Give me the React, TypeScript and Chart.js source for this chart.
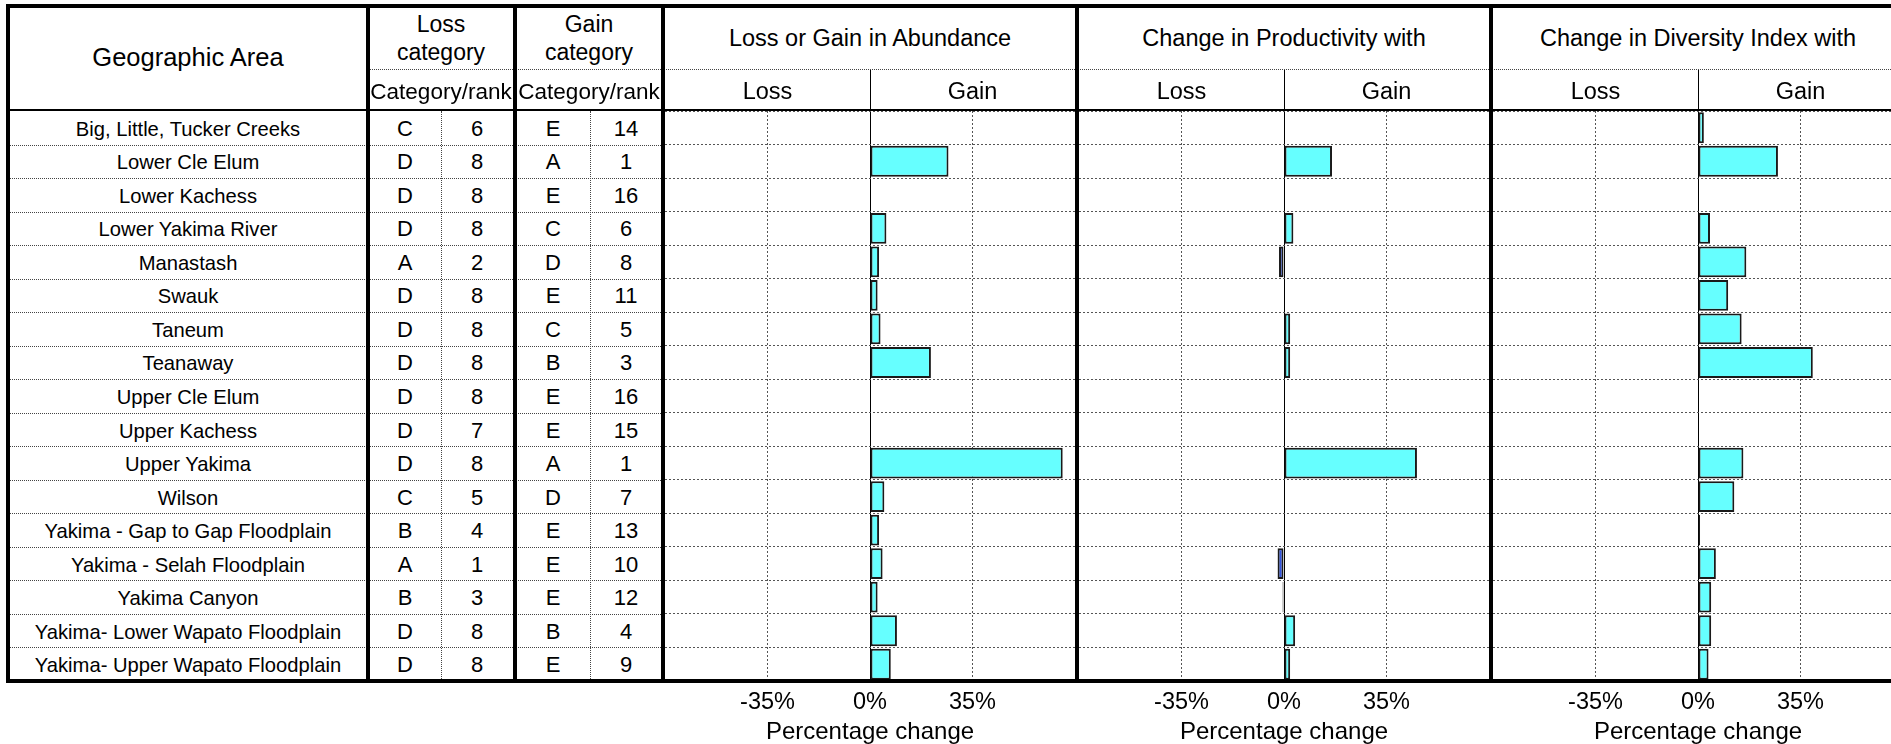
import React, { useEffect, useRef } from 'react';
import { Chart, registerables } from 'chart.js';

Chart.register(...registerables);

// ---------- data ----------
const areas = [
  'Big, Little, Tucker Creeks',
  'Lower Cle Elum',
  'Lower Kachess',
  'Lower Yakima River',
  'Manastash',
  'Swauk',
  'Taneum',
  'Teanaway',
  'Upper Cle Elum',
  'Upper Kachess',
  'Upper Yakima',
  'Wilson',
  'Yakima - Gap to Gap Floodplain',
  'Yakima - Selah Floodplain',
  'Yakima Canyon',
  'Yakima- Lower Wapato Floodplain',
  'Yakima- Upper Wapato Floodplain',
];
const lossCategory = ['C', 'D', 'D', 'D', 'A', 'D', 'D', 'D', 'D', 'D', 'D', 'C', 'B', 'A', 'B', 'D', 'D'];
const lossRank = [6, 8, 8, 8, 2, 8, 8, 8, 8, 7, 8, 5, 4, 1, 3, 8, 8];
const gainCategory = ['E', 'A', 'E', 'C', 'D', 'E', 'C', 'B', 'E', 'E', 'A', 'D', 'E', 'E', 'E', 'B', 'E'];
const gainRank = [14, 1, 16, 6, 8, 11, 5, 3, 16, 15, 1, 7, 13, 10, 12, 4, 9];

const abundanceChange = [null, 26.8, null, 5.6, 3.1, 2.6, 3.6, 20.8, null, null, 65.8, 4.9, 3.1, 4.3, 2.6, 9.2, 7.1];
const productivityChange = [null, 16.4, null, 3.2, -1.7, null, 2.1, 2.1, null, null, 45.4, null, null, -2.2, -0.5, 3.8, 2.1];
const diversityChange = [2.0, 27.3, null, 4.1, 16.5, 10.3, 14.9, 39.2, null, null, 15.5, 12.4, 0.7, 6.1, 4.5, 4.5, 3.6];

const panelTitles = ['Loss or Gain in Abundance', 'Change in Productivity with', 'Change in Diversity Index with'];
const subHeaders = ['Loss', 'Gain'];
const xTicks = [-35, 0, 35];
const xMin = -70;
const xMax = 70;
const axisTitle = 'Percentage change';

// ---------- style / layout ----------
const FONT = '"Liberation Sans", Arial, Helvetica, sans-serif';
const POS = '#66ffff';
const NEG = '#3355dd';
const ROW_TOP = 111;
const ROW_BOTTOM = 681;
const ROW_H = (ROW_BOTTOM - ROW_TOP) / areas.length;
const PANEL_W = 410;
const PANEL_LEFTS = [665, 1079, 1493];
const CANVAS_H = 744 - ROW_TOP;
const AXIS_H = 744 - ROW_BOTTOM;

function makeChart(canvas: HTMLCanvasElement, values: (number | null)[]) {
  return new Chart(canvas, {
    type: 'bar',
    data: {
      labels: areas,
      datasets: [
        {
          data: values as any,
          backgroundColor: (c: any) => (c.raw < 0 ? NEG : POS),
          borderColor: '#1a1a1a',
          borderWidth: 2,
          borderSkipped: false,
          barPercentage: 0.92,
          categoryPercentage: 1,
        },
      ],
    },
    options: {
      indexAxis: 'y',
      responsive: false,
      maintainAspectRatio: false,
      animation: false,
      layout: { padding: 0 },
      plugins: { legend: { display: false }, tooltip: { enabled: false } },
      scales: {
        x: {
          type: 'linear',
          min: xMin,
          max: xMax,
          afterBuildTicks: (s: any) => {
            s.ticks = xTicks.map((v) => ({ value: v }));
          },
          afterFit: (s: any) => {
            s.height = AXIS_H;
          },
          grid: {
            color: (c: any) => (c.tick && c.tick.value === 0 ? '#000' : '#555'),
            lineWidth: 1,
            drawTicks: false,
          },
          border: {
            display: false,
            dash: (c: any) => (c.tick && c.tick.value === 0 ? [] : [2, 2]),
          } as any,
          ticks: {
            padding: 7,
            color: '#000',
            autoSkip: false,
            maxRotation: 0,
            font: { family: FONT, size: 23.5 },
            callback: (v: any) => v + '%',
          },
          title: {
            display: true,
            text: axisTitle,
            color: '#000',
            padding: 0,
            font: { family: FONT, size: 24, lineHeight: 1 },
          },
        },
        y: {
          type: 'category',
          afterFit: (s: any) => {
            s.width = 0;
          },
          ticks: { display: false },
          grid: { color: '#555', lineWidth: 1, drawTicks: false, offset: true },
          border: { display: false, dash: [2, 2] },
        },
      },
    } as any,
  });
}

const abs = (o: React.CSSProperties): React.CSSProperties => ({ position: 'absolute', ...o });

function Txt({ x, y, size, children }: { x: number; y: number; size: number; children: React.ReactNode }) {
  return (
    <div
      style={abs({
        left: x,
        top: y,
        transform: 'translate(-50%, -50%)',
        fontSize: size,
        lineHeight: 1,
        whiteSpace: 'nowrap',
      })}
    >
      {children}
    </div>
  );
}

function HLine({ x, y, w, h = 1, dotted = false }: { x: number; y: number; w: number; h?: number; dotted?: boolean }) {
  return dotted ? (
    <div style={abs({ left: x, top: y, width: w, height: 0, borderTop: '1px dotted #444' })} />
  ) : (
    <div style={abs({ left: x, top: y, width: w, height: h, background: '#000' })} />
  );
}

function VLine({ x, y, h, w = 1, dotted = false }: { x: number; y: number; h: number; w?: number; dotted?: boolean }) {
  return dotted ? (
    <div style={abs({ left: x, top: y, width: 0, height: h, borderLeft: '1px dotted #444' })} />
  ) : (
    <div style={abs({ left: x, top: y, width: w, height: h, background: '#000' })} />
  );
}

export default function App() {
  const r0 = useRef<HTMLCanvasElement>(null);
  const r1 = useRef<HTMLCanvasElement>(null);
  const r2 = useRef<HTMLCanvasElement>(null);

  useEffect(() => {
    document.body.style.margin = '0';
    document.body.style.overflow = 'hidden';
    const charts = [
      makeChart(r0.current!, abundanceChange),
      makeChart(r1.current!, productivityChange),
      makeChart(r2.current!, diversityChange),
    ];
    return () => charts.forEach((c) => c.destroy());
  }, []);

  const refs = [r0, r1, r2];
  const thickX = [6, 366, 513, 661, 1075, 1489];

  return (
    <div
      style={{
        position: 'fixed',
        left: 0,
        top: 0,
        width: 1891,
        height: 744,
        overflow: 'hidden',
        background: '#fff',
        color: '#000',
        fontFamily: FONT,
      }}
    >
      {PANEL_LEFTS.map((left, i) => (
        <canvas
          key={'c' + i}
          ref={refs[i]}
          width={PANEL_W}
          height={CANVAS_H}
          style={abs({ left, top: ROW_TOP, width: PANEL_W, height: CANVAS_H })}
        />
      ))}

      {/* left table row separators */}
      {areas.slice(1).map((_, i) => (
        <HLine key={'hr' + i} x={10} y={Math.round(ROW_TOP + (i + 1) * ROW_H)} w={651} dotted />
      ))}
      <VLine x={441} y={ROW_TOP} h={ROW_BOTTOM - ROW_TOP} dotted />
      <VLine x={590} y={ROW_TOP} h={ROW_BOTTOM - ROW_TOP} dotted />

      {/* header lines */}
      <HLine x={370} y={69} w={1521} dotted />
      <HLine x={10} y={109} w={1881} h={2} />
      {PANEL_LEFTS.map((left, i) => (
        <VLine key={'z' + i} x={left + PANEL_W / 2} y={70} h={40} />
      ))}

      {/* thick borders */}
      <HLine x={6} y={4} w={1885} h={4} />
      <HLine x={6} y={679} w={1885} h={4} />
      {thickX.map((x, i) => (
        <VLine key={'t' + i} x={x} y={4} h={679} w={4} />
      ))}

      {/* header text */}
      <Txt x={188} y={58} size={25.5}>Geographic Area</Txt>
      <Txt x={441} y={24} size={23}>Loss</Txt>
      <Txt x={441} y={52} size={23}>category</Txt>
      <Txt x={589} y={24} size={23}>Gain</Txt>
      <Txt x={589} y={52} size={23}>category</Txt>
      <Txt x={441} y={92} size={22.5}>Category/rank</Txt>
      <Txt x={589} y={92} size={22.5}>Category/rank</Txt>
      {PANEL_LEFTS.map((left, i) => (
        <React.Fragment key={'h' + i}>
          <Txt x={left + PANEL_W / 2} y={39} size={23.5}>{panelTitles[i]}</Txt>
          <Txt x={left + PANEL_W / 4} y={92} size={23.5}>{subHeaders[0]}</Txt>
          <Txt x={left + (PANEL_W * 3) / 4} y={92} size={23.5}>{subHeaders[1]}</Txt>
        </React.Fragment>
      ))}

      {/* table body text */}
      {areas.map((name, i) => {
        const cy = ROW_TOP + (i + 0.5) * ROW_H + 1;
        return (
          <React.Fragment key={'r' + i}>
            <Txt x={188} y={cy} size={20.2}>{name}</Txt>
            <Txt x={405} y={cy} size={22}>{lossCategory[i]}</Txt>
            <Txt x={477} y={cy} size={22}>{lossRank[i]}</Txt>
            <Txt x={553} y={cy} size={22}>{gainCategory[i]}</Txt>
            <Txt x={626} y={cy} size={22}>{gainRank[i]}</Txt>
          </React.Fragment>
        );
      })}
    </div>
  );
}
